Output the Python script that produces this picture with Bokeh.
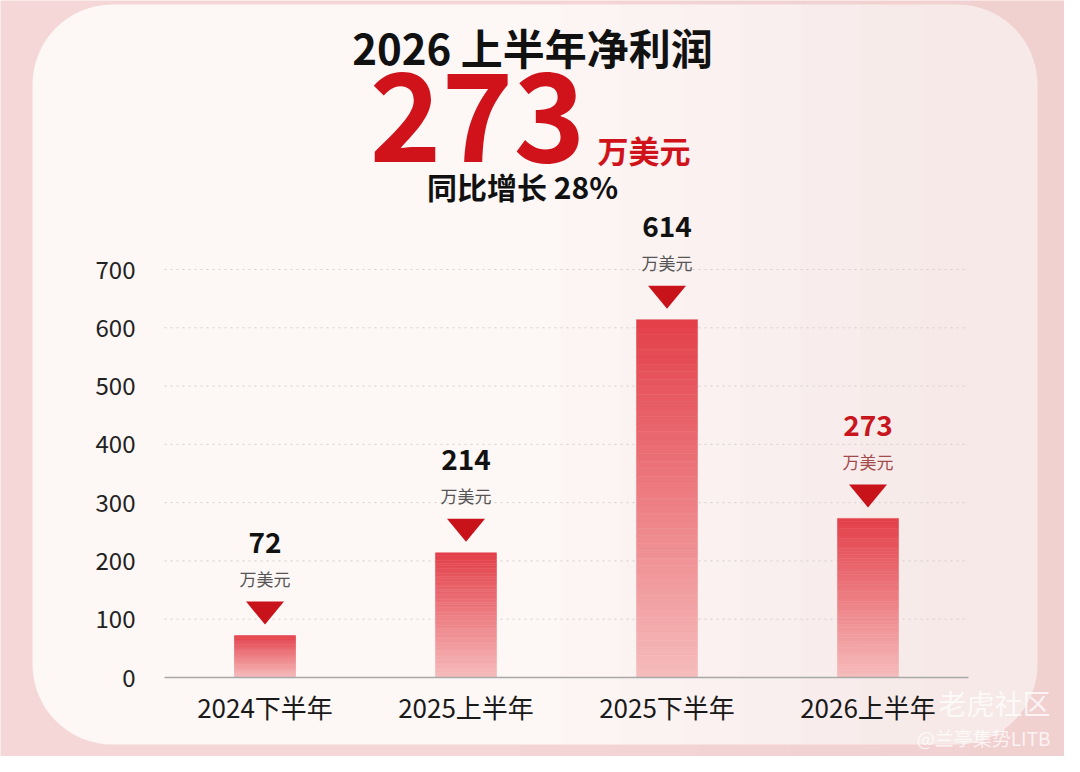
from bokeh.plotting import figure
from bokeh.models import (Range1d, FixedTicker, Label, BoxAnnotation, ColumnDataSource)
from bokeh.core.properties import value
from bokeh.embed import file_html
from bokeh.resources import INLINE

# ---------------- data ----------------
categories = ["2024下半年", "2025上半年", "2025下半年", "2026上半年"]
profits = [72, 214, 614, 273]          # 万美元
unit_label = "万美元"
y_ticks = [0, 100, 200, 300, 400, 500, 600, 700]
headline_title = "2026 上半年净利润"
headline_value = "273"
headline_unit = "万美元"
headline_growth = "同比增长 28%"

# ---------------- layout constants ----------------
W, H = 1064, 756
FONT = "Noto Sans CJK SC"
px_per_unit = 408.0 / 700.0       # y: 700 units -> 408 px
unit_px_x = 201.0                 # x: px per category
x0_px, y0_px = 164.0, 677.0       # canvas position of data origin

x_start = -x0_px / unit_px_x
x_end = (W - x0_px) / unit_px_x
y_start = -(H - y0_px) / px_per_unit
y_end = y0_px / px_per_unit

p = figure(width=W, height=H, output_backend="svg", toolbar_location=None,
           x_range=Range1d(x_start, x_end), y_range=Range1d(y_start, y_end))
p.min_border = 0
p.outline_line_color = None
p.background_fill_color = "#f5d7d7"
p.border_fill_color = "#f5d7d7"

def cbox(**kw):
    return BoxAnnotation(left_units="canvas", right_units="canvas",
                         top_units="canvas", bottom_units="canvas",
                         line_color=None, level="image", **kw)

# page background: lighter on the left, pinker on the right
for k in range(6):
    p.add_layout(cbox(left=520 + k * 90, right=W, top=0, bottom=H,
                      fill_color="#eec4c4", fill_alpha=0.07))

# card behind everything
p.add_layout(cbox(left=32, right=1037, top=4, bottom=744,
                  fill_color="#fdf7f6", fill_alpha=1.0, border_radius=80))
# subtle pink tint towards the right of the card
for k in range(7):
    p.add_layout(cbox(left=560 + k * 60, right=1037, top=4, bottom=744,
                      fill_color="#f3cdcd", fill_alpha=0.045,
                      border_radius=(0, 80, 80, 0)))

# ---------------- axes ----------------
n = len(categories)
xs = [i + 0.5 for i in range(n)]
xa = p.xaxis[0]
xa.fixed_location = 0
xa.bounds = (0, n)
xa.ticker = FixedTicker(ticks=xs)
xa.major_label_overrides = {x: c for x, c in zip(xs, categories)}
xa.major_label_text_font = FONT
xa.major_label_text_font_size = "26px"
xa.major_label_text_color = "#1a1a1a"
xa.major_label_standoff = 4
xa.major_tick_line_color = None
xa.minor_tick_line_color = None
xa.axis_line_color = "#a9a9a9"
xa.axis_line_width = 1.5

ya = p.yaxis[0]
ya.fixed_location = 0
ya.bounds = (0, y_ticks[-1])
ya.ticker = FixedTicker(ticks=y_ticks)
ya.major_label_text_font = FONT
ya.major_label_text_font_size = "24px"
ya.major_label_text_color = "#222222"
ya.major_label_standoff = 23
ya.major_tick_line_color = None
ya.minor_tick_line_color = None
ya.axis_line_color = None

p.xgrid.grid_line_color = None
p.ygrid.grid_line_color = None

# dotted horizontal grid, limited to the plotting area
gy = y_ticks[1:]
p.segment(x0=[0] * len(gy), x1=[n] * len(gy), y0=gy, y1=gy,
          line_color="#d4cece", line_dash="2 4", line_width=1, level="underlay")

# ---------------- gradient bars ----------------
def hex2rgb(h):
    h = h.lstrip("#")
    return tuple(int(h[i:i + 2], 16) for i in (0, 2, 4))

top_c = hex2rgb("#e33f49")
bot_c = hex2rgb("#f6bcbc")
N = 48
bar_w = 61.0 / unit_px_x
q_left, q_right, q_bottom, q_top, q_color = [], [], [], [], []
for x, v in zip(xs, profits):
    for i in range(N):
        t = (i + 0.5) / N
        c = tuple(int(round(bot_c[k] + (top_c[k] - bot_c[k]) * t)) for k in range(3))
        q_left.append(x - bar_w / 2)
        q_right.append(x + bar_w / 2)
        q_bottom.append(v * i / N)
        q_top.append(v * (i + 1) / N)
        q_color.append("#%02x%02x%02x" % c)
p.quad(left=q_left, right=q_right, bottom=q_bottom, top=q_top,
       fill_color=q_color, line_color=q_color, line_width=0.5)

# ---------------- triangle markers ----------------
tri_hw = 19.0 / unit_px_x
tip_off = 11.0 / px_per_unit
top_off = 34.0 / px_per_unit
tri_xs = [[x - tri_hw, x + tri_hw, x] for x in xs]
tri_ys = [[v + top_off, v + top_off, v + tip_off] for v in profits]
p.patches(tri_xs, tri_ys, fill_color="#c8131b", line_color=None)

# ---------------- value labels ----------------
last = n - 1
val_colors = ["#111111"] * last + ["#c8161d"]
unit_colors = ["#555555"] * last + ["#a34a4c"]
src = ColumnDataSource(dict(x=xs, y=profits, txt=[str(v) for v in profits],
                            unit=[unit_label] * n, vc=val_colors, uc=unit_colors))
p.text(x="x", y="y", text="txt", source=src, y_offset=-93,
       text_align="center", text_baseline="middle",
       text_font=value(FONT), text_font_style="bold",
       text_font_size="28px", text_color="vc")
p.text(x="x", y="y", text="unit", source=src, y_offset=-57,
       text_align="center", text_baseline="middle",
       text_font=value(FONT), text_font_size="17px", text_color="uc")

# ---------------- headline ----------------
def lab(text, x, y, size, color, align="center", bold=True, alpha=1.0):
    p.add_layout(Label(x=x, y=y, x_units="canvas", y_units="canvas", text=text,
                       text_align=align, text_baseline="middle",
                       text_font=FONT, text_font_size=size,
                       text_font_style="bold" if bold else "normal",
                       text_color=color, text_alpha=alpha))

lab(headline_title, 532, 46, "42px", "#111111")
lab(headline_value, 477, 116, "122px", "#d0121b")
lab(headline_unit, 597, 149, "31px", "#d0121b", align="left")
lab(headline_growth, 522, 185, "30px", "#111111")

# watermark
lab("老虎社区", 1050, 702, "28px", "#ffffff", align="right", bold=False, alpha=0.75)
lab("@兰亭集势LITB", 1050, 737, "19px", "#ffffff", align="right", bold=False, alpha=0.75)

open("out.html", "w").write(file_html(p, INLINE))
